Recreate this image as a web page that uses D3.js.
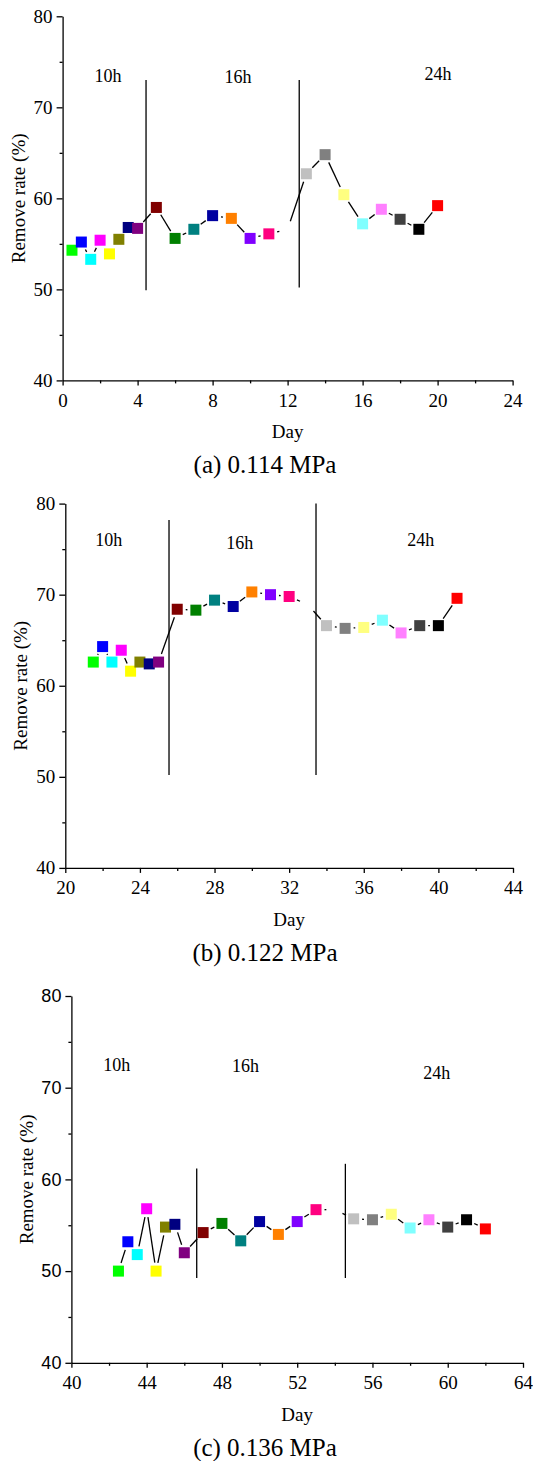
<!DOCTYPE html>
<html>
<head>
<meta charset="utf-8">
<script src="https://cdn.jsdelivr.net/npm/d3@7/dist/d3.min.js"></script>
<style>
  body { margin: 0; background: #fff; }
  svg { display: block; }
</style>
</head>
<body>
<svg id="fig" width="533" height="1461"></svg>
<script>
// Symbol colours, one per sample in run order (the 16th sample is white).
const markerColors = [
  "#00FF00", "#0000FF", "#00FFFF", "#FF00FF", "#FFFF00", "#808000", "#000080", "#800080",
  "#800000", "#008000", "#008080", "#0000A0", "#FF8000", "#8000FF", "#FF0080", "#FFFFFF",
  "#C0C0C0", "#808080", "#FFFF80", "#80FFFF", "#FF80FF", "#404040", "#000000", "#FF0000"
];

const phaseLabels = ["10h", "16h", "24h"];
const yTickValues = [40, 50, 60, 70, 80];
const yMinorValues = [45, 55, 65, 75];

// (a) 0.114 MPa
const daysA = [0.5, 1, 1.5, 2, 2.5, 3, 3.5, 4, 5, 6, 7, 8,
               9, 10, 11, 12, 13, 14, 15, 16, 17, 18, 19, 20];
const rateA = [54.3, 55.2, 53.3, 55.4, 53.9, 55.5, 56.8, 56.7, 59.0, 55.6, 56.6, 58.1,
               57.8, 55.6, 56.1, 56.6, 62.7, 64.8, 60.4, 57.2, 58.8, 57.7, 56.6, 59.2];
const xTicksA = [0, 4, 8, 12, 16, 20, 24];
const xMinorA = [2, 6, 10, 14, 18, 22];
const dividerDaysA = [4.45, 12.62];
const dividerTopA = [73.0, 73.0];
const dividerBottomA = [49.9, 50.2];

// (b) 0.122 MPa
const daysB = [21.5, 22, 22.5, 23, 23.5, 24, 24.5, 25, 26, 27, 28, 29,
               30, 31, 32, 33, 34, 35, 36, 37, 38, 39, 40, 41];
const rateB = [62.6, 64.3, 62.6, 63.9, 61.6, 62.6, 62.4, 62.6, 68.4, 68.3, 69.4, 68.7,
               70.3, 70.0, 69.8, 68.9, 66.6, 66.3, 66.4, 67.2, 65.8, 66.6, 66.6, 69.6];
const xTicksB = [20, 24, 28, 32, 36, 40, 44];
const xMinorB = [22, 26, 30, 34, 38, 42];
const dividerDaysB = [25.56, 33.44];
const dividerTopB = [78.2, 80.0];
const dividerBottomB = [50.2, 50.2];

// (c) 0.136 MPa
const daysC = [42.5, 43, 43.5, 44, 44.5, 45, 45.5, 46, 47, 48, 49, 50,
               51, 52, 53, 54, 55, 56, 57, 58, 59, 60, 61, 62];
const rateC = [50.0, 53.2, 51.8, 56.8, 50.0, 54.8, 55.1, 52.0, 54.2, 55.2, 53.3, 55.4,
               54.0, 55.4, 56.7, 56.7, 55.7, 55.6, 56.2, 54.7, 55.6, 54.8, 55.6, 54.6];
const xTicksC = [40, 44, 48, 52, 56, 60, 64];
const xMinorC = [42, 46, 50, 54, 58, 62];
const dividerDaysC = [46.66, 54.56];
const dividerTopC = [61.2, 61.7];
const dividerBottomC = [49.25, 49.25];

const captions = ["(a) 0.114 MPa", "(b) 0.122 MPa", "(c) 0.136 MPa"];

const SERIF = "'Liberation Serif', 'Times New Roman', serif";
const SANS = "'Liberation Sans', Arial, sans-serif";

const panels = [
  { days: daysA, rates: rateA, xDomain: [0, 24], xTicks: xTicksA, xMinor: xMinorA,
    divDays: dividerDaysA, divTop: dividerTopA, divBottom: dividerBottomA,
    box: { left: 62.6, right: 512.6, top: 16.3, bottom: 380.4 },
    labelAt: [[2.42, 73.45], [9.35, 73.3], [20.02, 73.7]],
    yFont: SERIF, caption: captions[0] },
  { days: daysB, rates: rateB, xDomain: [20, 44], xTicks: xTicksB, xMinor: xMinorB,
    divDays: dividerDaysB, divTop: dividerTopB, divBottom: dividerBottomB,
    box: { left: 65.3, right: 513, top: 503.6, bottom: 867.9 },
    labelAt: [[22.33, 76.0], [29.35, 75.7], [39.06, 76.0]],
    yFont: SERIF, caption: captions[1] },
  { days: daysC, rates: rateC, xDomain: [40, 64], xTicks: xTicksC, xMinor: xMinorC,
    divDays: dividerDaysC, divTop: dividerTopC, divBottom: dividerBottomC,
    box: { left: 71.4, right: 523, top: 996, bottom: 1362.8 },
    labelAt: [[42.41, 72.48], [49.25, 72.37], [59.41, 71.57]],
    yFont: SANS, caption: captions[2] }
];

const svg = d3.select("#fig");
const GAP = 8.5;      // clearance between connecting lines and symbol centres
const SYMBOL = 11;    // symbol edge length

panels.forEach(p => {
  const x = d3.scaleLinear().domain(p.xDomain).range([p.box.left, p.box.right]);
  const y = d3.scaleLinear().domain([40, 80]).range([p.box.bottom, p.box.top]);
  const g = svg.append("g");

  // y axis: major + minor ticks
  const ya = g.append("g").attr("transform", `translate(${p.box.left},0)`)
    .call(d3.axisLeft(y).tickValues(yTickValues).tickSize(6).tickSizeOuter(0)
      .tickPadding(4).tickFormat(d3.format("d")));
  g.append("g").attr("transform", `translate(${p.box.left},0)`)
    .call(d3.axisLeft(y).tickValues(yMinorValues).tickSize(3).tickFormat(""))
    .select(".domain").remove();
  ya.selectAll("text").attr("font-family", p.yFont).attr("font-size", p.yFont === SANS ? 18 : 19)
    .attr("fill", "#000");

  // x axis: major + minor ticks
  const xa = g.append("g").attr("transform", `translate(0,${p.box.bottom})`)
    .call(d3.axisBottom(x).tickValues(p.xTicks).tickSize(5).tickSizeOuter(0)
      .tickPadding(8).tickFormat(d3.format("d")));
  g.append("g").attr("transform", `translate(0,${p.box.bottom})`)
    .call(d3.axisBottom(x).tickValues(p.xMinor).tickSize(3).tickFormat(""))
    .select(".domain").remove();
  xa.selectAll("text").attr("font-family", SERIF).attr("font-size", 19).attr("fill", "#000");

  g.selectAll(".domain").attr("stroke", "#000").attr("stroke-width", 1.3);
  g.selectAll(".tick line").attr("stroke", "#000").attr("stroke-width", 1.3);

  // axis titles
  g.append("text")
    .attr("transform", `translate(${p.box.left - 38},${(p.box.top + p.box.bottom) / 2}) rotate(-90)`)
    .attr("text-anchor", "middle").attr("font-family", SERIF).attr("font-size", 19)
    .text("Remove rate (%)");
  g.append("text")
    .attr("x", (p.box.left + p.box.right) / 2).attr("y", p.box.bottom + 58)
    .attr("text-anchor", "middle").attr("font-family", SERIF).attr("font-size", 19)
    .text("Day");
  g.append("text")
    .attr("x", 265).attr("y", p.box.bottom + 93)
    .attr("text-anchor", "middle").attr("font-family", SERIF).attr("font-size", 25)
    .text(p.caption);

  // phase dividers
  g.selectAll("line.divider").data(p.divDays).join("line").attr("class", "divider")
    .attr("x1", d => x(d)).attr("x2", d => x(d))
    .attr("y1", (d, i) => y(p.divTop[i])).attr("y2", (d, i) => y(p.divBottom[i]))
    .attr("stroke", "#000").attr("stroke-width", 1.3);

  // phase labels
  g.selectAll("text.phase").data(phaseLabels).join("text").attr("class", "phase")
    .attr("x", (d, i) => x(p.labelAt[i][0])).attr("y", (d, i) => y(p.labelAt[i][1]))
    .attr("text-anchor", "middle").attr("dominant-baseline", "central")
    .attr("font-family", SERIF).attr("font-size", 18).text(d => d);

  // connecting segments with a gap around each symbol
  const pts = p.days.map((d, i) => [x(d), y(p.rates[i])]);
  const segs = [];
  for (let i = 0; i < pts.length - 1; i++) {
    const [x0, y0] = pts[i], [x1, y1] = pts[i + 1];
    const len = Math.hypot(x1 - x0, y1 - y0);
    if (len <= 2 * GAP + 0.5) continue;
    const ux = (x1 - x0) / len, uy = (y1 - y0) / len;
    segs.push([x0 + ux * GAP, y0 + uy * GAP, x1 - ux * GAP, y1 - uy * GAP]);
  }
  g.selectAll("line.seg").data(segs).join("line").attr("class", "seg")
    .attr("x1", d => d[0]).attr("y1", d => d[1]).attr("x2", d => d[2]).attr("y2", d => d[3])
    .attr("stroke", "#000").attr("stroke-width", 1.3);

  // square symbols
  g.selectAll("rect.sym").data(p.days).join("rect").attr("class", "sym")
    .attr("x", d => x(d) - SYMBOL / 2)
    .attr("y", (d, i) => y(p.rates[i]) - SYMBOL / 2)
    .attr("width", SYMBOL).attr("height", SYMBOL)
    .attr("fill", (d, i) => markerColors[i]);
});
</script>
</body>
</html>
